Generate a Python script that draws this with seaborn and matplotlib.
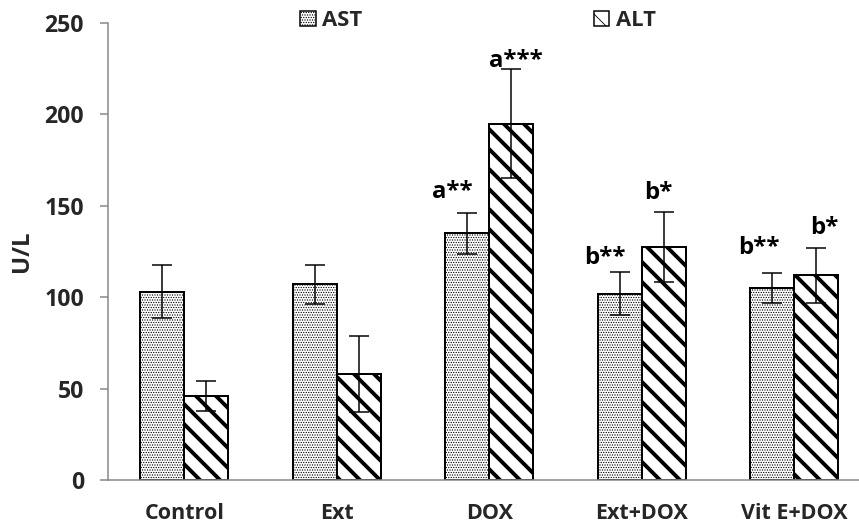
import numpy as np
import pandas as pd
import matplotlib
matplotlib.use("Agg")
import matplotlib.pyplot as plt
import seaborn as sns
from matplotlib.patches import Patch

# =========================
# DATA
# =========================
groups = ["Control", "Ext", "DOX", "Ext+DOX", "Vit E+DOX"]
enzymes = ["AST", "ALT"]

ast_mean = [103, 107, 135, 102, 105]
ast_sd = [14.5, 10.7, 11.2, 11.6, 8]
alt_mean = [46, 58, 195, 127.5, 112]
alt_sd = [8, 20.6, 30, 19, 15]

ast_labels = ["", "", "a**", "b**", "b**"]
alt_labels = ["", "", "a***", "b*", "b*"]

yticks = [0, 50, 100, 150, 200, 250]

df = pd.DataFrame({
    "group": groups * 2,
    "enzyme": ["AST"] * len(groups) + ["ALT"] * len(groups),
    "value": ast_mean + alt_mean,
})

# low dpi so the stripe hatch gets the wider spacing of the original
DPI = 60


def pt(px):
    # pixels -> points at this dpi
    return px * 72.0 / DPI


# =========================
# STYLE
# =========================
sns.set_style("white")
plt.rcParams["font.family"] = ["Open Sans", "DejaVu Sans"]
plt.rcParams["font.weight"] = "bold"
plt.rcParams["hatch.color"] = "black"

fig = plt.figure(figsize=(859 / DPI, 527 / DPI), dpi=DPI)
ax = fig.add_axes([108 / 859, 47 / 527, 762.5 / 859, 457 / 527])

sns.barplot(data=df, x="group", y="value", hue="enzyme", order=groups,
            hue_order=enzymes, palette=["white", "white"], errorbar=None,
            width=0.58, edgecolor="black", linewidth=pt(2), legend=False, ax=ax)

hatches = {"AST": "....", "ALT": "\\"}
hatch_lw = {"AST": pt(0.8), "ALT": pt(3.9)}


def style_patch(p, name):
    p.set_hatch(hatches[name])
    if hasattr(p, "set_hatch_linewidth"):
        p.set_hatch_linewidth(hatch_lw[name])
    else:
        p._hatch_linewidth = hatch_lw[name]


bars = list(ax.patches)
n = len(groups)
series = [("AST", ast_mean, ast_sd, ast_labels), ("ALT", alt_mean, alt_sd, alt_labels)]

# label offsets in pixels (dx, gap above cap)
label_off = {
    ("AST", 2): (-15, 15), ("ALT", 2): (5, 2),
    ("AST", 3): (-15, 8), ("ALT", 3): (-6, 13),
    ("AST", 4): (-13, 19), ("ALT", 4): (8, 14),
}

for k, (name, means, sds, labels) in enumerate(series):
    for i in range(n):
        p = bars[k * n + i]
        style_patch(p, name)
        xc = p.get_x() + p.get_width() / 2
        ax.errorbar(xc, means[i], yerr=sds[i], fmt="none", ecolor="black",
                    elinewidth=pt(1.5), capsize=pt(10), capthick=pt(1.5), zorder=5)
        if labels[i]:
            dx, dy = label_off[(name, i)]
            ax.annotate(labels[i], (xc, means[i] + sds[i]),
                        xytext=(pt(dx), pt(dy)), textcoords="offset points",
                        ha="center", va="baseline", fontsize=pt(24),
                        fontweight="bold", color="black")

# =========================
# AXES
# =========================
ax.set_xlim(-0.5, 4.5)
ax.set_ylim(0, 250)
ax.set_yticks(yticks)
ax.set_yticklabels([str(t) for t in yticks], fontsize=pt(23), fontweight="bold")
ax.set_xticks(range(n))
ax.set_xticklabels(groups, fontsize=pt(21.5), fontweight="bold")
ax.set_xticks(np.arange(-0.5, n, 1.0), minor=True)
ax.tick_params(axis="x", which="major", length=0, pad=pt(23))
ax.tick_params(axis="x", which="minor", length=pt(8), width=pt(1.5), color="#868686",
               direction="out")
ax.tick_params(axis="y", length=pt(8), width=pt(1.5), color="#868686", pad=pt(16),
               direction="out", left=True)
ax.set_xlabel("")
ax.set_ylabel("U/L", fontsize=pt(24), fontweight="bold", labelpad=pt(10))

sns.despine(ax=ax, top=True, right=True)
for side in ["left", "bottom"]:
    ax.spines[side].set_color("#868686")
    ax.spines[side].set_linewidth(pt(1.5))

handles = []
for name in enzymes:
    h = Patch(facecolor="white", edgecolor="black", linewidth=pt(1.5), label=name)
    style_patch(h, name)
    handles.append(h)
leg = fig.legend(handles=handles, loc="upper center",
                 bbox_to_anchor=(478 / 859, 1.018), ncol=2, frameon=False,
                 fontsize=pt(22), handlelength=0.7, handleheight=0.7,
                 handletextpad=0.3, columnspacing=10.5)
for t in leg.get_texts():
    t.set_fontweight("bold")

fig.savefig("out.png", dpi=DPI)
